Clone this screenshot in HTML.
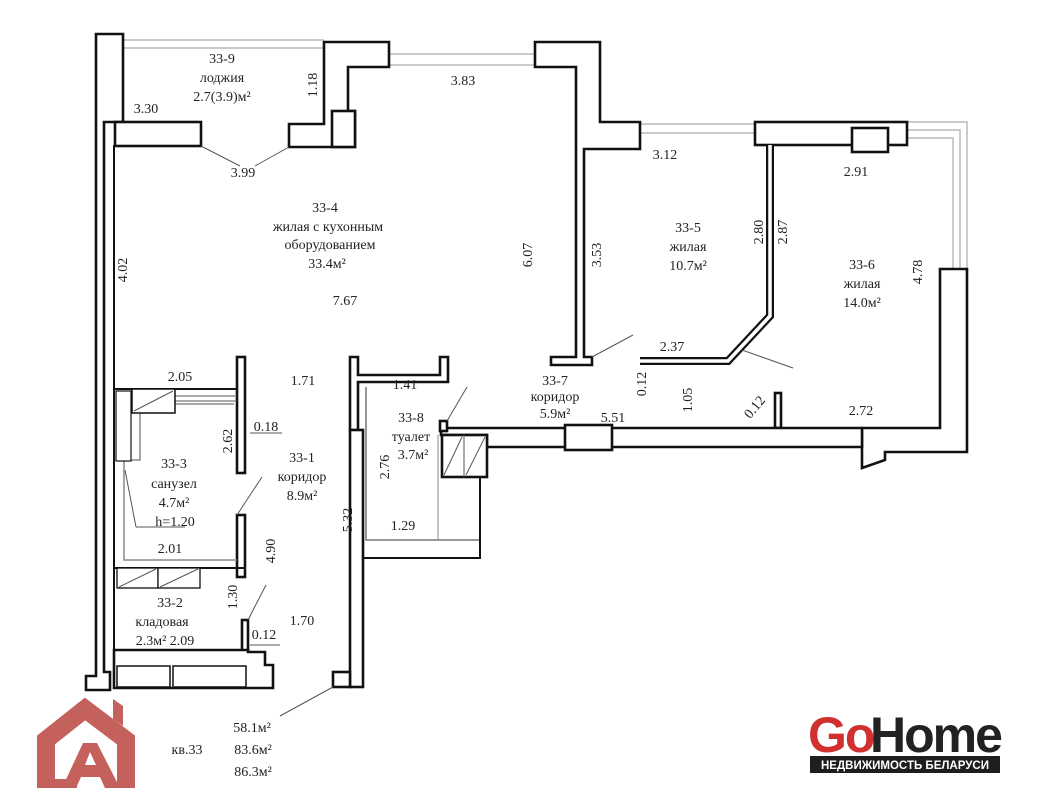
<!DOCTYPE html>
<html><head><meta charset="utf-8"><style>
html,body{margin:0;padding:0;background:#fff;}
svg{display:block;}
text{font-family:"Liberation Serif",serif;font-size:14px;fill:#222;}
.w{fill:#fff;stroke:#111;stroke-width:2.6;}
.r{fill:none;stroke:#aaa;stroke-width:1.2;}
.t{stroke:#555;stroke-width:1;fill:none;}
</style></head><body>
<svg width="1045" height="800" viewBox="0 0 1045 800">
<!-- rails -->
<line class="r" x1="122" y1="40" x2="324" y2="40"/><line class="r" x1="122" y1="48" x2="324" y2="48"/>
<line class="r" x1="389" y1="54" x2="535" y2="54"/><line class="r" x1="389" y1="65" x2="535" y2="65"/>
<line class="r" x1="640" y1="124" x2="755" y2="124"/><line class="r" x1="640" y1="133" x2="755" y2="133"/>
<path class="r" d="M907 122 H967 V269 M907 130 H960 V269 M907 138 H953 V269"/>
<!-- left outer wall -->
<path class="w" d="M96 34 H123 V122 H104 V672 H110 V690 H86 V676 H96 Z"/>
<line x1="114" y1="145" x2="114" y2="650" stroke="#111" stroke-width="2"/>
<!-- loggia blocks -->
<rect class="w" x="115" y="122" width="86" height="24"/>
<path class="w" d="M324 42 H389 V67 H348 V111 H355 V147 H289 V124 H324 Z"/>
<rect class="w" x="332" y="111" width="23" height="36"/>
<path class="w" d="M535 42 H600 V122 H640 V149 H584 V357 H592 V365 H551 V357 H576 V149 H576 V67 H535 Z"/>
<line class="t" x1="201" y1="146" x2="240" y2="166"/><line class="t" x1="289" y1="147" x2="255" y2="166"/>
<!-- top right block -->
<rect class="w" x="755" y="122" width="152" height="23"/>
<rect class="w" x="852" y="128" width="36" height="24"/>
<!-- partition 33-5/33-6 -->
<path d="M770 145 V316 L728 361 H640" fill="none" stroke="#111" stroke-width="8"/>
<path d="M770 145 V316 L728 361 H640" fill="none" stroke="#fff" stroke-width="3.5"/>
<rect class="w" x="775" y="393" width="6" height="35"/>
<line class="t" x1="592" y1="357" x2="633" y2="335"/><line class="t" x1="742" y1="350" x2="793" y2="368"/>
<!-- right outer wall -->
<path class="w" d="M940 269 H967 V452 H885 V460 L862 468 V428 H940 Z"/>
<!-- corridor bottom wall -->
<path class="w" d="M441 428 H862 V447 H487 V435 H441 Z"/>
<rect class="w" x="565" y="425" width="47" height="25"/>
<!-- shaft -->
<rect class="w" x="442" y="435" width="45" height="42"/>
<line class="t" x1="464" y1="435" x2="464" y2="477"/>
<line class="t" x1="444" y1="475" x2="462" y2="437"/><line class="t" x1="466" y1="475" x2="485" y2="437"/>
<rect class="w" x="440" y="421" width="7" height="10"/>
<line class="t" x1="447" y1="421" x2="467" y2="387"/>
<!-- 33-8 toilet walls -->
<path class="w" d="M350 357 H358 V375 H440 V357 H448 V382 H358 V430 H350 Z"/>
<path d="M366 387 V540 H480 V477" fill="none" stroke="#777" stroke-width="1.5"/>
<path d="M363 558 H480 V477" fill="none" stroke="#111" stroke-width="2"/>
<line x1="438" y1="435" x2="438" y2="540" stroke="#888" stroke-width="1"/>
<rect class="w" x="350" y="430" width="13" height="257"/>
<rect class="w" x="333" y="672" width="17" height="15"/>
<line class="t" x1="333" y1="687" x2="280" y2="716"/>
<!-- 33-3 walls -->
<rect class="w" x="237" y="357" width="8" height="116"/>
<rect class="w" x="237" y="515" width="8" height="62"/>
<line x1="114" y1="389" x2="237" y2="389" stroke="#111" stroke-width="2"/>
<line x1="175" y1="396" x2="237" y2="396" stroke="#555" stroke-width="1"/>
<line x1="175" y1="401" x2="237" y2="401" stroke="#555" stroke-width="1"/>
<path d="M234 404 H140 V460 H124 V560 H237" fill="none" stroke="#888" stroke-width="1.5"/>
<rect x="132" y="389" width="43" height="24" fill="#fff" stroke="#111" stroke-width="1.5"/>
<line class="t" x1="134" y1="411" x2="173" y2="391"/>
<rect x="116" y="391" width="15" height="70" fill="#fff" stroke="#111" stroke-width="1.2"/>
<line x1="114" y1="568" x2="245" y2="568" stroke="#111" stroke-width="2"/>
<line class="t" x1="237" y1="515" x2="262" y2="477"/>
<!-- 33-2 -->
<rect x="117" y="568" width="41" height="20" fill="#fff" stroke="#111" stroke-width="1.3"/>
<rect x="158" y="568" width="42" height="20" fill="#fff" stroke="#111" stroke-width="1.3"/>
<line class="t" x1="119" y1="587" x2="156" y2="569"/><line class="t" x1="160" y1="587" x2="198" y2="569"/>
<rect class="w" x="242" y="620" width="6" height="32"/>
<line class="t" x1="248" y1="620" x2="266" y2="585"/>
<path class="w" d="M114 650 H248 V652 H265 V665 H273 V688 H114 Z"/>
<rect x="117" y="666" width="53" height="21" fill="#fff" stroke="#111" stroke-width="1.5"/>
<rect x="173" y="666" width="73" height="21" fill="#fff" stroke="#111" stroke-width="1.5"/>
<line class="t" x1="250" y1="645" x2="280" y2="645"/><line class="t" x1="250" y1="433" x2="282" y2="433"/>
<line class="t" x1="125" y1="470" x2="136" y2="527"/><line class="t" x1="136" y1="527" x2="185" y2="527"/>
<!-- texts -->
<g text-anchor="middle">
<text x="222" y="63">33-9</text><text x="222" y="82">лоджия</text><text x="222" y="101">2.7(3.9)м²</text>
<text x="146" y="113">3.30</text><text x="463" y="85">3.83</text><text x="243" y="177">3.99</text>
<text x="325" y="212">33-4</text><text x="328" y="231">жилая с кухонным</text><text x="330" y="249">оборудованием</text><text x="327" y="268">33.4м²</text>
<text x="345" y="305">7.67</text>
<text x="688" y="232">33-5</text><text x="688" y="251">жилая</text><text x="688" y="270">10.7м²</text>
<text x="665" y="159">3.12</text><text x="856" y="176">2.91</text>
<text x="862" y="269">33-6</text><text x="862" y="288">жилая</text><text x="862" y="307">14.0м²</text>
<text x="672" y="351">2.37</text><text x="861" y="415">2.72</text>
<text x="555" y="385">33-7</text><text x="555" y="401">коридор</text><text x="555" y="418">5.9м²</text>
<text x="613" y="422">5.51</text>
<text x="180" y="381">2.05</text><text x="303" y="385">1.71</text><text x="405" y="389">1.41</text>
<text x="411" y="422">33-8</text><text x="411" y="441">туалет</text><text x="413" y="459">3.7м²</text>
<text x="266" y="431">0.18</text>
<text x="174" y="468">33-3</text><text x="174" y="488">санузел</text><text x="174" y="507">4.7м²</text>
<text x="175" y="526">h=1.20</text>
<text x="302" y="462">33-1</text><text x="302" y="481">коридор</text><text x="302" y="500">8.9м²</text>
<text x="403" y="530">1.29</text><text x="170" y="553">2.01</text>
<text x="170" y="607">33-2</text><text x="162" y="626">кладовая</text>
<text x="165" y="645">2.3м² 2.09</text><text x="264" y="639">0.12</text><text x="302" y="625">1.70</text>
<text x="252" y="732">58.1м²</text><text x="253" y="754">83.6м²</text><text x="253" y="776">86.3м²</text>
<text x="187" y="754">кв.33</text>
</g>
<g>
<text transform="translate(127,270) rotate(-90)" text-anchor="middle">4.02</text>
<text transform="translate(317,85) rotate(-90)" text-anchor="middle">1.18</text>
<text transform="translate(532,255) rotate(-90)" text-anchor="middle">6.07</text>
<text transform="translate(601,255) rotate(-90)" text-anchor="middle">3.53</text>
<text transform="translate(763,232) rotate(-90)" text-anchor="middle">2.80</text>
<text transform="translate(787,232) rotate(-90)" text-anchor="middle">2.87</text>
<text transform="translate(922,272) rotate(-90)" text-anchor="middle">4.78</text>
<text transform="translate(646,384) rotate(-90)" text-anchor="middle">0.12</text>
<text transform="translate(692,400) rotate(-90)" text-anchor="middle">1.05</text>
<text transform="translate(758,410) rotate(-50)" text-anchor="middle">0.12</text>
<text transform="translate(232,441) rotate(-90)" text-anchor="middle">2.62</text>
<text transform="translate(389,467) rotate(-90)" text-anchor="middle">2.76</text>
<text transform="translate(352,520) rotate(-90)" text-anchor="middle">5.32</text>
<text transform="translate(275,551) rotate(-90)" text-anchor="middle">4.90</text>
<text transform="translate(237,597) rotate(-90)" text-anchor="middle">1.30</text>
</g>
<!-- house logo -->
<g fill="#c4615c">
<polyline points="46,788 46,740 85,709 126,740 126,788" fill="none" stroke="#c4615c" stroke-width="18" stroke-linejoin="miter"/>
<path d="M113 699 L123 706 V726 L113 719 Z"/>
<path d="M62 788 L83 743 H97 L120 788 H105 L100 777 H81 L76 788 Z M85 765 H96 L90 752 Z"/>
<rect x="37" y="779" width="40" height="9"/>
</g>
<!-- GoHome -->
<text x="808" y="752" style="font-family:'Liberation Sans',sans-serif;font-weight:bold;font-size:50px;fill:#d0302e;letter-spacing:-2px">Go</text>
<text x="870" y="752" style="font-family:'Liberation Sans',sans-serif;font-weight:bold;font-size:50px;fill:#222;letter-spacing:-2px">Home</text>
<rect x="810" y="756" width="190" height="17" fill="#1e1e1e"/>
<text x="905" y="769" text-anchor="middle" style="font-family:'Liberation Sans',sans-serif;font-weight:bold;font-size:11.5px;fill:#fff">НЕДВИЖИМОСТЬ БЕЛАРУСИ</text>
</svg>
</body></html>
